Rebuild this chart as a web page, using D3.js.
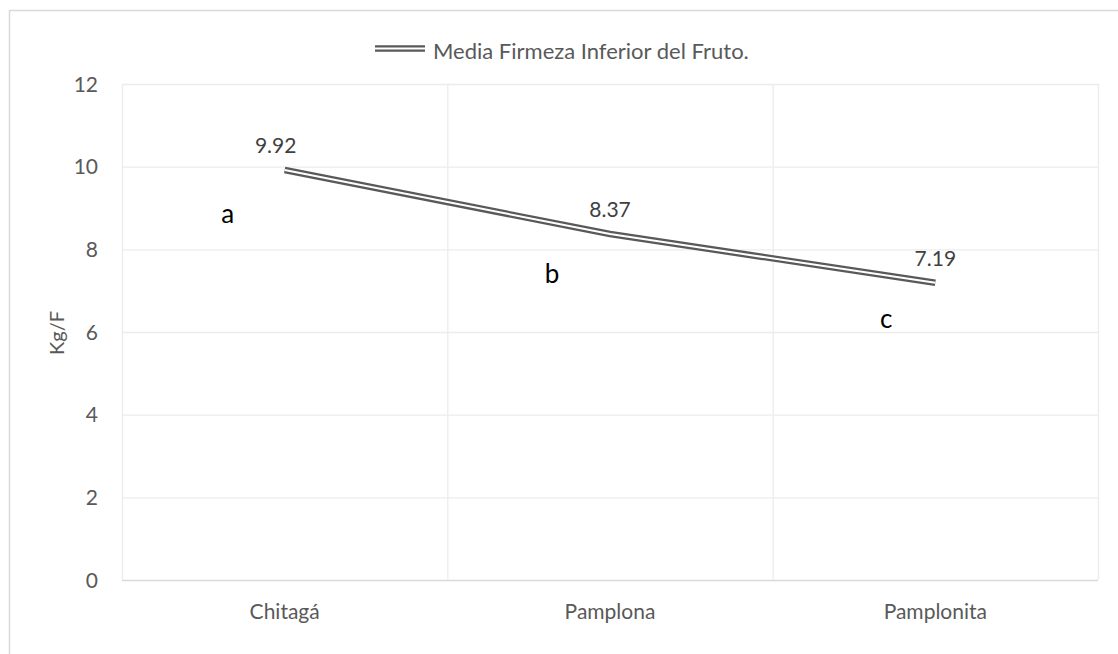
<!DOCTYPE html>
<html>
<head>
<meta charset="utf-8">
<script src="https://cdn.jsdelivr.net/npm/d3@7"></script>
<style>
  body { margin: 0; background: #fff; }
  text { font-family: Lato, "Open Sans", sans-serif; }
</style>
</head>
<body>
<div id="vis"></div>
<script>
var categories = ["Chitagá", "Pamplona", "Pamplonita"];
var values = [9.92, 8.37, 7.19];
var groupLetters = ["a", "b", "c"];
var yTicks = [0, 2, 4, 6, 8, 10, 12];
var seriesName = "Media Firmeza Inferior del Fruto.";

var W = 1118, H = 654;
var margin = {top: 84, right: 20, bottom: 74, left: 122},
    width = 1098 - margin.left,
    height = 580 - margin.top;

var svg = d3.select("#vis")
    .append("svg")
    .attr("width", W)
    .attr("height", H);

// chart area border (cropped on right/bottom)
svg.append("rect")
    .attr("x", 9.5).attr("y", 10.5)
    .attr("width", 1200).attr("height", 800)
    .attr("fill", "none")
    .attr("stroke", "#d9d9d9")
    .attr("stroke-width", 1.5);

var x = d3.scaleBand()
    .domain(categories)
    .range([0, width]);

var y = d3.scaleLinear()
    .domain([0, 12])
    .range([height, 0]);

var g = svg.append("g")
    .attr("transform", "translate(" + margin.left + "," + margin.top + ")");

// horizontal gridlines
g.selectAll(".hgrid")
    .data(yTicks)
    .enter().append("line")
    .attr("x1", 0).attr("x2", width)
    .attr("y1", function(d) { return y(d) + 0.5; })
    .attr("y2", function(d) { return y(d) + 0.5; })
    .attr("stroke", function(d) { return d === 0 ? "#d9d9d9" : "#ececec"; })
    .attr("stroke-width", 1.3);

// vertical gridlines at category boundaries
var bounds = categories.map(function(c) { return x(c); }).concat([width]);
g.selectAll(".vgrid")
    .data(bounds)
    .enter().append("line")
    .attr("x1", function(d) { return d + 0.5; })
    .attr("x2", function(d) { return d + 0.5; })
    .attr("y1", 0).attr("y2", height)
    .attr("stroke", "#ececec")
    .attr("stroke-width", 1.3);

// y axis tick labels
g.selectAll(".ytick")
    .data(yTicks)
    .enter().append("text")
    .attr("x", -24)
    .attr("y", function(d) { return y(d); })
    .attr("dy", "0.36em")
    .attr("text-anchor", "end")
    .attr("fill", "#595959")
    .style("font-size", "21px")
    .text(function(d) { return d; });

// x axis labels
g.selectAll(".xtick")
    .data(categories)
    .enter().append("text")
    .attr("x", function(d) { return x(d) + x.bandwidth() / 2; })
    .attr("y", height + 39)
    .attr("text-anchor", "middle")
    .attr("fill", "#595959")
    .style("font-size", "21px")
    .text(function(d) { return d; });

// y axis title
svg.append("text")
    .attr("transform", "translate(64,333) rotate(-90)")
    .attr("text-anchor", "middle")
    .attr("fill", "#595959")
    .style("font-size", "20px")
    .text("Kg/F");

// double line
var line = d3.line()
    .x(function(d, i) { return x(categories[i]) + x.bandwidth() / 2; })
    .y(function(d) { return y(d); });

g.append("path")
    .datum(values)
    .attr("d", line)
    .attr("fill", "none")
    .attr("stroke", "#595959")
    .attr("stroke-width", 6.5)
    .attr("stroke-linecap", "butt");

g.append("path")
    .datum(values)
    .attr("d", line)
    .attr("fill", "none")
    .attr("stroke", "#fff")
    .attr("stroke-width", 2)
    .attr("stroke-linecap", "butt");

// data labels
var labelDx = [-9, 0, 0];
g.selectAll(".dlabel")
    .data(values)
    .enter().append("text")
    .attr("x", function(d, i) { return x(categories[i]) + x.bandwidth() / 2 + labelDx[i]; })
    .attr("y", function(d) { return y(d) - 17; })
    .attr("text-anchor", "middle")
    .attr("fill", "#404040")
    .style("font-size", "21px")
    .text(function(d) { return d.toFixed(2); });

// significance letters
var letterPos = [{dx: -57, v: 8.64}, {dx: -58, v: 7.19}, {dx: -49, v: 6.1}];
g.selectAll(".letter")
    .data(groupLetters)
    .enter().append("text")
    .attr("x", function(d, i) { return x(categories[i]) + x.bandwidth() / 2 + letterPos[i].dx; })
    .attr("y", function(d, i) { return y(letterPos[i].v); })
    .attr("text-anchor", "middle")
    .attr("fill", "#000")
    .style("font-size", "26px")
    .text(function(d) { return d; });

// legend
var leg = svg.append("g").attr("transform", "translate(375,48.5)");
leg.append("line")
    .attr("x1", 0).attr("x2", 50)
    .attr("stroke", "#595959").attr("stroke-width", 6.5);
leg.append("line")
    .attr("x1", 0).attr("x2", 50)
    .attr("stroke", "#fff").attr("stroke-width", 2);
leg.append("text")
    .attr("x", 58)
    .attr("y", 10.5)
    .attr("fill", "#595959")
    .style("font-size", "22px")
    .text(seriesName);
</script>
</body>
</html>
